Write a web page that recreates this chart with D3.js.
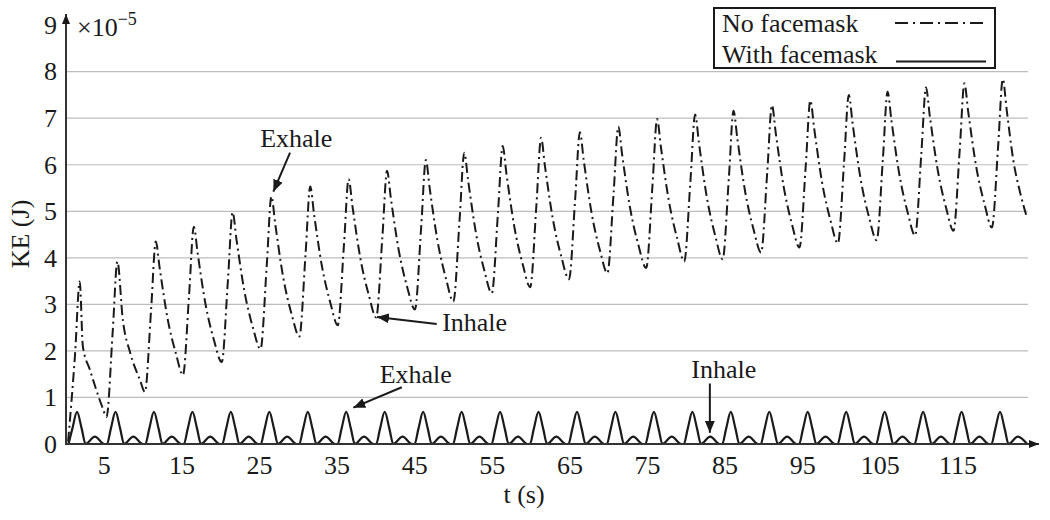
<!DOCTYPE html>
<html><head><meta charset="utf-8">
<script src="https://cdn.jsdelivr.net/npm/d3@7"></script>
<style>
html,body{margin:0;padding:0;background:#fff;}
svg{display:block;font-family:"Liberation Serif","DejaVu Serif",serif;}
svg text{font-family:"Liberation Serif","DejaVu Serif",serif;}
</style></head><body>
<svg id="chart" width="1050" height="520"></svg>
<script>
// ---------- data ----------
const xTickValues = [5,15,25,35,45,55,65,75,85,95,105,115];
const yTickValues = [0,1,2,3,4,5,6,7,8,9];
const gridValues = [1,2,3,4,5,6,7,8];
const seriesNames = ["No facemask","With facemask"];
const xLabel = "t (s)";
const yLabel = "KE (J)";

// No facemask: [t (s), KE (×1e-5 J)]
const noMask = [
[0.4,0.05],[1.3,1.94],[1.9,3.49],[2.3,2.1],[3.2,1.6],[4.8,0.8],[5.35,0.58],
[6.15,2.42],[6.75,3.92],[7.45,2.67],[8.4,1.96],[9.65,1.38],[10.3,1.12],
[11.1,2.90],[11.7,4.35],[12.2,3.78],[13.2,2.71],[14.3,1.94],[15.2,1.48],
[16.0,3.23],[16.6,4.67],[17.1,4.09],[18.1,3.01],[19.2,2.23],[20.2,1.76],
[21.0,3.53],[21.6,4.98],[22.1,4.39],[23.1,3.30],[24.2,2.51],[25.2,2.04],
[26.0,3.84],[26.6,5.32],[27.1,4.72],[28.1,3.60],[29.2,2.79],[30.2,2.31],
[31.0,4.08],[31.6,5.53],[32.1,4.93],[33.1,3.83],[34.2,3.03],[35.15,2.55],
[35.95,4.28],[36.55,5.69],[37.05,5.10],[38.05,4.00],[39.15,3.20],[40.1,2.72],
[40.9,4.45],[41.5,5.87],[42.0,5.27],[43.0,4.17],[44.1,3.37],[45.1,2.89],
[45.9,4.66],[46.5,6.10],[47.0,5.49],[48.0,4.37],[49.1,3.55],[50.05,3.06],
[50.85,4.82],[51.45,6.26],[51.95,5.66],[52.95,4.54],[54.05,3.72],[55.0,3.24],
[55.8,4.98],[56.4,6.40],[56.9,5.79],[57.9,4.67],[59.0,3.85],[59.95,3.37],
[60.75,5.14],[61.35,6.58],[61.85,5.97],[62.85,4.85],[63.95,4.03],[64.95,3.54],
[65.75,5.28],[66.35,6.70],[66.85,6.09],[67.85,4.97],[68.95,4.15],[69.9,3.67],
[70.7,5.40],[71.3,6.82],[71.8,6.21],[72.8,5.09],[73.9,4.27],[74.9,3.78],
[75.7,5.54],[76.3,6.98],[76.8,6.37],[77.8,5.24],[78.9,4.41],[79.8,3.92],
[80.6,5.66],[81.2,7.08],[81.7,6.46],[82.7,5.31],[83.8,4.47],[84.75,3.97],
[85.55,5.72],[86.15,7.16],[86.65,6.55],[87.65,5.42],[88.75,4.60],[89.7,4.11],
[90.5,5.85],[91.1,7.28],[91.6,6.67],[92.6,5.54],[93.7,4.71],[94.65,4.22],
[95.45,5.96],[96.05,7.38],[96.55,6.77],[97.55,5.63],[98.65,4.80],[99.6,4.31],
[100.4,6.06],[101.0,7.50],[101.5,6.88],[102.5,5.72],[103.6,4.88],[104.6,4.38],
[105.4,6.13],[106.0,7.57],[106.5,6.95],[107.5,5.81],[108.6,4.97],[109.55,4.48],
[110.35,6.23],[110.95,7.66],[111.45,7.04],[112.45,5.90],[113.55,5.07],[114.5,4.58],
[115.3,6.32],[115.9,7.75],[116.4,7.13],[117.4,5.98],[118.5,5.15],[119.45,4.65],
[120.25,6.40],[120.85,7.84],[121.35,7.18],[122.2,6.1],[123.1,5.39],[123.9,4.9]
];

// With facemask: [t (s), KE (×1e-5 J)]
const withMask = [
[0.45,0],[0.95,0.33],[1.55,0.69],[2.15,0.33],[2.65,0],[3.85,0.16],[5.05,0],
[5.41,0],[5.91,0.33],[6.51,0.69],[7.11,0.33],[7.61,0],[8.81,0.16],[10.01,0],
[10.36,0],[10.86,0.33],[11.46,0.69],[12.06,0.33],[12.56,0],[13.76,0.16],[14.96,0],
[15.32,0],[15.82,0.33],[16.42,0.69],[17.02,0.33],[17.52,0],[18.72,0.16],[19.92,0],
[20.27,0],[20.77,0.33],[21.37,0.69],[21.97,0.33],[22.47,0],[23.67,0.16],[24.87,0],
[25.23,0],[25.73,0.33],[26.33,0.69],[26.93,0.33],[27.43,0],[28.63,0.16],[29.83,0],
[30.19,0],[30.69,0.33],[31.29,0.69],[31.89,0.33],[32.39,0],[33.59,0.16],[34.79,0],
[35.14,0],[35.64,0.33],[36.24,0.69],[36.84,0.33],[37.34,0],[38.54,0.16],[39.74,0],
[40.1,0],[40.6,0.33],[41.2,0.69],[41.8,0.33],[42.3,0],[43.5,0.16],[44.7,0],
[45.05,0],[45.55,0.33],[46.15,0.69],[46.75,0.33],[47.25,0],[48.45,0.16],[49.65,0],
[50.01,0],[50.51,0.33],[51.11,0.69],[51.71,0.33],[52.21,0],[53.41,0.16],[54.61,0],
[54.97,0],[55.47,0.33],[56.07,0.69],[56.67,0.33],[57.17,0],[58.37,0.16],[59.57,0],
[59.92,0],[60.42,0.33],[61.02,0.69],[61.62,0.33],[62.12,0],[63.32,0.16],[64.52,0],
[64.88,0],[65.38,0.33],[65.98,0.69],[66.58,0.33],[67.08,0],[68.28,0.16],[69.48,0],
[69.83,0],[70.33,0.33],[70.93,0.69],[71.53,0.33],[72.03,0],[73.23,0.16],[74.43,0],
[74.79,0],[75.29,0.33],[75.89,0.69],[76.49,0.33],[76.99,0],[78.19,0.16],[79.39,0],
[79.75,0],[80.25,0.33],[80.85,0.69],[81.45,0.33],[81.95,0],[83.15,0.16],[84.35,0],
[84.7,0],[85.2,0.33],[85.8,0.69],[86.4,0.33],[86.9,0],[88.1,0.16],[89.3,0],
[89.66,0],[90.16,0.33],[90.76,0.69],[91.36,0.33],[91.86,0],[93.06,0.16],[94.26,0],
[94.61,0],[95.11,0.33],[95.71,0.69],[96.31,0.33],[96.81,0],[98.01,0.16],[99.21,0],
[99.57,0],[100.07,0.33],[100.67,0.69],[101.27,0.33],[101.77,0],[102.97,0.16],[104.17,0],
[104.53,0],[105.03,0.33],[105.63,0.69],[106.23,0.33],[106.73,0],[107.93,0.16],[109.13,0],
[109.48,0],[109.98,0.33],[110.58,0.69],[111.18,0.33],[111.68,0],[112.88,0.16],[114.08,0],
[114.44,0],[114.94,0.33],[115.54,0.69],[116.14,0.33],[116.64,0],[117.84,0.16],[119.04,0],
[119.39,0],[119.89,0.33],[120.49,0.69],[121.09,0.33],[121.59,0],[122.79,0.16],[123.99,0]
];

const annotationLabels = ["Exhale","Inhale","Exhale","Inhale"];

// ---------- chart ----------
const svg = d3.select("#chart");
const ink = "#1a1a1a";
const x = d3.scaleLinear().domain([0,125]).range([65,1035]);
const y = d3.scaleLinear().domain([0,9]).range([444,25.1]);
const axisX0 = 66, gridRight = 1028;

const defs = svg.append("defs");
defs.append("marker").attr("id","ah").attr("viewBox","0 0 12 10")
  .attr("refX",12).attr("refY",5).attr("markerWidth",12).attr("markerHeight",10)
  .attr("markerUnits","userSpaceOnUse").attr("orient","auto")
  .append("path").attr("d","M0,0 L12,5 L0,10 Z").attr("fill",ink);
defs.append("marker").attr("id","axah").attr("viewBox","0 0 10 8")
  .attr("refX",10).attr("refY",4).attr("markerWidth",10).attr("markerHeight",8)
  .attr("markerUnits","userSpaceOnUse").attr("orient","auto")
  .append("path").attr("d","M0,0 L10,4 L0,8 Z").attr("fill",ink);

// gridlines
svg.append("g").selectAll("line").data(gridValues).join("line")
  .attr("x1",axisX0).attr("x2",gridRight)
  .attr("y1",d=>y(d)).attr("y2",d=>y(d))
  .attr("stroke","#bdbdbd").attr("stroke-width",1.2);

// axes ticks labels
const gx = svg.append("g").attr("transform",`translate(0,${y(0)})`)
  .call(d3.axisBottom(x).tickValues(xTickValues).tickSize(0).tickPadding(12).tickFormat(d3.format("d")));
gx.attr("font-family",null).attr("font-size",null);
gx.select(".domain").remove();
gx.selectAll("text").attr("font-size",26).attr("fill",ink);

const gy = svg.append("g").attr("transform",`translate(${axisX0},0)`)
  .call(d3.axisLeft(y).tickValues(yTickValues).tickSize(0).tickPadding(9).tickFormat(d3.format("d")));
gy.attr("font-family",null).attr("font-size",null);
gy.select(".domain").remove();
gy.selectAll("text").attr("font-size",26).attr("fill",ink);

// series
const line = d3.line().x(d=>x(d[0])).y(d=>y(d[1])).curve(d3.curveMonotoneX);
svg.append("path").datum(withMask).attr("d",line)
  .attr("fill","none").attr("stroke",ink).attr("stroke-width",2.2).attr("stroke-linejoin","round");
svg.append("path").datum(noMask).attr("d",line)
  .attr("fill","none").attr("stroke",ink).attr("stroke-width",2)
  .attr("stroke-dasharray","10,4,2,4").attr("stroke-linejoin","round");

// axis lines with arrows
svg.append("line").attr("x1",axisX0).attr("x2",axisX0).attr("y1",y(0)+1).attr("y2",14)
  .attr("stroke","#333").attr("stroke-width",2).attr("marker-end","url(#axah)");
svg.append("line").attr("x1",axisX0-1).attr("x2",1039).attr("y1",y(0)).attr("y2",y(0))
  .attr("stroke","#333").attr("stroke-width",2).attr("marker-end","url(#axah)");

// exponent
const ex = svg.append("text").attr("x",77).attr("y",36).attr("font-size",26).attr("fill",ink);
ex.append("tspan").text("×10");
ex.append("tspan").attr("font-size",18).attr("dy",-11).text("−5");

// axis titles
svg.append("text").attr("x",524).attr("y",503).attr("text-anchor","middle")
  .attr("font-size",26).attr("fill",ink).text(xLabel);
svg.append("text").attr("transform","translate(29,234) rotate(-90)").attr("text-anchor","middle")
  .attr("font-size",26).attr("fill",ink).text(yLabel);

// annotations (positions in data units)
const ann = [
  {text:[29.8,6.38], anchor:"middle", from:[29.0,6.26], to:[26.85,5.42]},
  {text:[48.6,2.42], anchor:"start",  from:[47.9,2.58], to:[40.2,2.73]},
  {text:[45.2,1.31], anchor:"middle", from:[43.4,1.22], to:[37.15,0.78]},
  {text:[84.9,1.42], anchor:"middle", from:[83.1,1.30], to:[83.1,0.24]}
];
ann.forEach((a,i)=>{
  svg.append("text").attr("x",x(a.text[0])).attr("y",y(a.text[1]))
    .attr("text-anchor",a.anchor).attr("font-size",26).attr("fill",ink).text(annotationLabels[i]);
  svg.append("line").attr("x1",x(a.from[0])).attr("y1",y(a.from[1]))
    .attr("x2",x(a.to[0])).attr("y2",y(a.to[1]))
    .attr("stroke",ink).attr("stroke-width",2).attr("marker-end","url(#ah)");
});

// legend
const lg = svg.append("g");
lg.append("rect").attr("x",714).attr("y",8).attr("width",281).attr("height",60)
  .attr("fill","#fff").attr("stroke",ink).attr("stroke-width",2);
lg.append("text").attr("x",722).attr("y",32).attr("font-size",26).attr("fill",ink).text(seriesNames[0]);
lg.append("text").attr("x",722).attr("y",63).attr("font-size",26).attr("fill",ink).text(seriesNames[1]);
lg.append("line").attr("x1",895).attr("x2",987).attr("y1",23).attr("y2",23)
  .attr("stroke",ink).attr("stroke-width",2).attr("stroke-dasharray","13,5,2,5");
lg.append("line").attr("x1",896).attr("x2",986).attr("y1",61.5).attr("y2",61.5)
  .attr("stroke",ink).attr("stroke-width",2.2);
</script>
</body></html>
